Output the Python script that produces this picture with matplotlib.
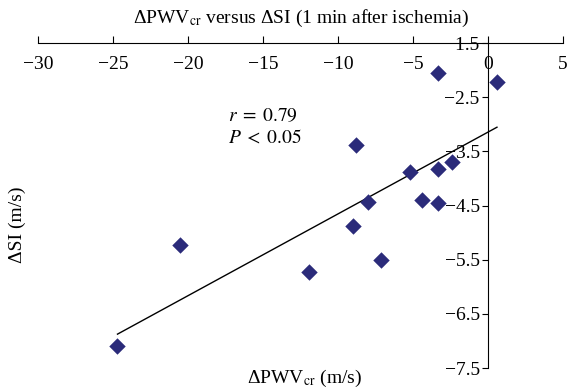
import numpy as np
import matplotlib
matplotlib.use("Agg")
import matplotlib.pyplot as plt

plt.rcParams['font.family'] = ['Liberation Serif', 'DejaVu Serif']
plt.rcParams['mathtext.fontset'] = 'stix'

# change in PWVcr vs change in SI, 1 min after ischemia
d_pwv = [-24.7, -20.5, -11.9, -9.0, -8.8, -8.0, -7.1, -5.2, -4.4, -3.3, -3.3, -3.3, -2.4, 0.6]
d_si = [-7.10, -5.23, -5.72, -4.88, -3.38, -4.43, -5.50, -3.88, -4.40, -2.05, -3.82, -4.45, -3.70, -2.22]

# linear trend line (slope, intercept)
trend_slope = 0.151
trend_icpt = -3.145

x_ticks = [-30, -25, -20, -15, -10, -5, 0, 5]
y_ticks = [-1.5, -2.5, -3.5, -4.5, -5.5, -6.5, -7.5]

fs = 14

fig = plt.figure(figsize=(5.73, 3.9), dpi=100)
ax = fig.add_axes([0.0663, 0.0564, 0.9162, 0.8333])

ax.scatter(d_pwv, d_si, marker='D', s=70, color='#2b2b7a', zorder=3, linewidths=0)

xs = np.array([min(d_pwv), max(d_pwv)])
ax.plot(xs, trend_slope * xs + trend_icpt, color='black', lw=1.0)

ax.set_xlim(-30, 5)
ax.set_ylim(-7.5, -1.5)
ax.set_xticks(x_ticks)
ax.set_xticklabels([f"\u2212{abs(v)}" if v < 0 else str(v) for v in x_ticks])
ax.set_yticks(y_ticks)
ax.set_yticklabels([f"\u2212{abs(v)}" for v in y_ticks])

ax.spines['top'].set_visible(False)
ax.spines['right'].set_visible(False)
ax.spines['bottom'].set_position(('data', -1.5))
ax.spines['left'].set_position(('data', 0))
ax.tick_params(axis='x', direction='in', length=5, labelsize=fs, pad=9)
ax.tick_params(axis='y', direction='out', length=4, labelsize=fs, pad=2)

ax.text(-17.3, -2.85, "$r\\;=\\;0.79$", fontsize=fs, ha='left', va='center')
ax.text(-17.3, -3.25, "$P\\;<\\;0.05$", fontsize=fs, ha='left', va='center')

fig.text(301 / 573, 1 - 18 / 390, "\u0394PWV$_{\\mathrm{cr}}$ versus \u0394SI (1 min after ischemia)",
         fontsize=fs, ha='center', va='center')
fig.text(304 / 573, 1 - 378 / 390, "\u0394PWV$_{\\mathrm{cr}}$ (m/s)", fontsize=fs, ha='center', va='center')
fig.text(17 / 573, 1 - 225 / 390, "\u0394SI (m/s)", fontsize=fs, ha='center', va='center', rotation=90)

fig.savefig("out.png", dpi=100)
